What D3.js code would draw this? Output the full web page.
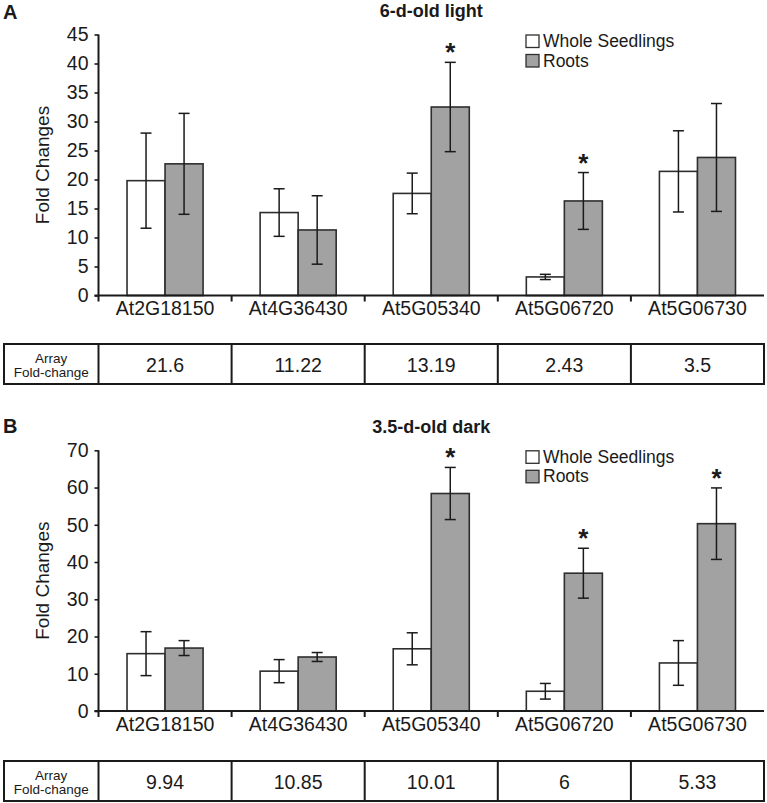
<!DOCTYPE html>
<html>
<head>
<meta charset="utf-8">
<script src="https://cdn.jsdelivr.net/npm/d3@7"></script>
<style>
  html, body { margin: 0; padding: 0; background: #fff; }
  svg { display: block; font-family: "Liberation Sans", Arial, sans-serif; }
</style>
</head>
<body>
<svg id="chart" width="767" height="803"></svg>
<script>
// ---------- data ----------
const genes = ["At2G18150", "At4G36430", "At5G05340", "At5G06720", "At5G06730"];
const seriesNames = ["Whole Seedlings", "Roots"];

// Panel A: 6-d-old light
const lightWhole    = [19.8, 14.3, 17.6, 3.2, 21.4];
const lightWholeErr = [8.2, 4.1, 3.5, 0.45, 7.0];
const lightRoots    = [22.7, 11.3, 32.5, 16.3, 23.8];
const lightRootsErr = [8.7, 5.9, 7.7, 4.9, 9.3];
const lightStars    = [false, false, true, true, false];
const lightArray    = ["21.6", "11.22", "13.19", "2.43", "3.5"];
const lightTicks    = [0, 5, 10, 15, 20, 25, 30, 35, 40, 45];

// Panel B: 3.5-d-old dark
const darkWhole    = [15.4, 10.7, 16.7, 5.3, 12.9];
const darkWholeErr = [5.9, 3.1, 4.3, 2.1, 6.0];
const darkRoots    = [16.9, 14.5, 58.4, 37.0, 50.3];
const darkRootsErr = [2.0, 1.2, 7.0, 6.7, 9.6];
const darkStars    = [false, false, true, true, true];
const darkArray    = ["9.94", "10.85", "10.01", "6", "5.33"];
const darkTicks    = [0, 10, 20, 30, 40, 50, 60, 70];

// ---------- drawing ----------
const svg = d3.select("#chart");
const X0 = 98.5, X1 = 764;
const fillColors = ["#ffffff", "#a2a2a2"];
const ink = "#1a1a1a";

function panel(cfg) {
  const g = svg.append("g");
  const x = d3.scaleBand().domain(genes).range([X0, X1]).padding(0);
  const x1 = d3.scaleBand().domain(seriesNames).range([0, x.bandwidth()])
    .paddingInner(0).paddingOuter(0.75);
  const y = d3.scaleLinear().domain([0, cfg.max]).range([cfg.bottom, cfg.top]);

  // panel letter
  g.append("text").attr("x", 3).attr("y", cfg.letterY)
    .attr("font-size", 20).attr("font-weight", "bold").attr("fill", ink)
    .text(cfg.letter);
  // title
  g.append("text").attr("x", (X0 + X1) / 2).attr("y", cfg.titleY)
    .attr("text-anchor", "middle").attr("font-size", 18).attr("font-weight", "bold")
    .attr("fill", ink).text(cfg.title);

  // y label
  g.append("text")
    .attr("transform", `translate(48.5,${(cfg.top + cfg.bottom) / 2}) rotate(-90)`)
    .attr("text-anchor", "middle").attr("font-size", 19).attr("fill", ink)
    .text("Fold Changes");

  const rows = genes.map((gn, i) => ({
    gene: gn,
    vals: [
      { s: seriesNames[0], v: cfg.whole[i], e: cfg.wholeErr[i], star: false },
      { s: seriesNames[1], v: cfg.roots[i], e: cfg.rootsErr[i], star: cfg.stars[i] }
    ]
  }));

  const grp = g.selectAll("g.grp").data(rows).join("g")
    .attr("transform", d => `translate(${x(d.gene)},0)`);

  grp.selectAll("rect").data(d => d.vals).join("rect")
    .attr("x", d => x1(d.s))
    .attr("width", x1.bandwidth())
    .attr("y", d => y(d.v))
    .attr("height", d => y(0) - y(d.v))
    .attr("fill", (d, i) => fillColors[i])
    .attr("stroke", "#2e2e2e").attr("stroke-width", 1.6);

  const eb = grp.selectAll("g.err").data(d => d.vals).join("g")
    .attr("stroke", ink).attr("stroke-width", 1.5);
  eb.append("line")
    .attr("x1", d => x1(d.s) + x1.bandwidth() / 2).attr("x2", d => x1(d.s) + x1.bandwidth() / 2)
    .attr("y1", d => y(d.v + d.e)).attr("y2", d => y(d.v - d.e));
  eb.append("line")
    .attr("x1", d => x1(d.s) + x1.bandwidth() / 2 - 5.5).attr("x2", d => x1(d.s) + x1.bandwidth() / 2 + 5.5)
    .attr("y1", d => y(d.v + d.e)).attr("y2", d => y(d.v + d.e));
  eb.append("line")
    .attr("x1", d => x1(d.s) + x1.bandwidth() / 2 - 5.5).attr("x2", d => x1(d.s) + x1.bandwidth() / 2 + 5.5)
    .attr("y1", d => y(d.v - d.e)).attr("y2", d => y(d.v - d.e));

  grp.selectAll("text.star").data(d => d.vals.filter(v => v.star)).join("text")
    .attr("class", "star")
    .attr("x", d => x1(d.s) + x1.bandwidth() / 2)
    .attr("y", d => y(d.v + d.e) - 1)
    .attr("text-anchor", "middle").attr("font-size", 26).attr("font-weight", "bold").attr("fill", ink)
    .text("*");

  // y axis
  const yAxis = d3.axisLeft(y).tickValues(cfg.ticks).tickSize(4).tickPadding(6).tickSizeOuter(0);
  const ya = g.append("g").attr("transform", `translate(${X0},0)`).call(yAxis);
  ya.select(".domain").attr("stroke", ink).attr("stroke-width", 2)
    .attr("d", `M0,${cfg.top}V${cfg.bottom + 6}`);
  ya.selectAll(".tick line").attr("stroke", ink).attr("stroke-width", 1.6);
  ya.selectAll(".tick text").attr("font-size", 19.5).attr("fill", ink)
    .attr("font-family", "'Liberation Sans', Arial, sans-serif");

  // x axis
  const xAxis = d3.axisBottom(x).tickSize(0).tickPadding(0).tickSizeOuter(0);
  const xa = g.append("g").attr("transform", `translate(0,${cfg.bottom})`).call(xAxis);
  xa.select(".domain").attr("stroke", ink).attr("stroke-width", 2)
    .attr("d", `M${X0 - 4},0H${X1}`);
  xa.selectAll(".tick text").attr("font-size", 19.5).attr("fill", ink).attr("dy", 0).attr("y", 19.5)
    .attr("font-family", "'Liberation Sans', Arial, sans-serif");
  const bounds = genes.map(gn => x(gn)).concat([X1]);
  xa.selectAll("line.bnd").data(bounds.slice(1, 5)).join("line")
    .attr("class", "bnd")
    .attr("x1", d => d).attr("x2", d => d).attr("y1", 0).attr("y2", 6)
    .attr("stroke", ink).attr("stroke-width", 2);

  // legend
  const lg = g.append("g").attr("transform", `translate(${X0 + 427.5},${cfg.top + 0.5})`);
  seriesNames.forEach((s, i) => {
    lg.append("rect").attr("x", 0).attr("y", i * 19.5).attr("width", 13).attr("height", 12.5)
      .attr("fill", fillColors[i]).attr("stroke", "#2e2e2e").attr("stroke-width", 1.3);
    lg.append("text").attr("x", 17).attr("y", i * 19.5 + 12)
      .attr("font-size", 17.5).attr("fill", ink).text(s);
  });

  // table
  const tTop = cfg.tableTop, tH = 40;
  const tb = g.append("g");
  tb.append("rect").attr("x", 4).attr("y", tTop).attr("width", X1 - 4).attr("height", tH)
    .attr("fill", "none").attr("stroke", ink).attr("stroke-width", 2);
  tb.selectAll("line.sep").data(bounds.slice(0, 5)).join("line")
    .attr("class", "sep")
    .attr("x1", d => d).attr("x2", d => d).attr("y1", tTop).attr("y2", tTop + tH)
    .attr("stroke", ink).attr("stroke-width", 2);
  tb.append("text").attr("x", (4 + X0) / 2).attr("y", tTop + 18.5)
    .attr("text-anchor", "middle").attr("font-size", 13.5).attr("fill", ink).text("Array");
  tb.append("text").attr("x", (4 + X0) / 2).attr("y", tTop + 33)
    .attr("text-anchor", "middle").attr("font-size", 13.5).attr("fill", ink).text("Fold-change");
  tb.selectAll("text.val").data(cfg.array).join("text")
    .attr("class", "val")
    .attr("x", (d, i) => x(genes[i]) + x.bandwidth() / 2)
    .attr("y", tTop + 28)
    .attr("text-anchor", "middle").attr("font-size", 19.5).attr("fill", ink)
    .text(d => d);
}

panel({
  letter: "A", letterY: 19, title: "6-d-old light", titleY: 17,
  top: 34.5, bottom: 295.5, max: 45, ticks: lightTicks,
  whole: lightWhole, wholeErr: lightWholeErr, roots: lightRoots, rootsErr: lightRootsErr,
  stars: lightStars, array: lightArray, tableTop: 344
});

panel({
  letter: "B", letterY: 433, title: "3.5-d-old dark", titleY: 432.5,
  top: 450.3, bottom: 711, max: 70, ticks: darkTicks,
  whole: darkWhole, wholeErr: darkWholeErr, roots: darkRoots, rootsErr: darkRootsErr,
  stars: darkStars, array: darkArray, tableTop: 761
});
</script>
</body>
</html>
